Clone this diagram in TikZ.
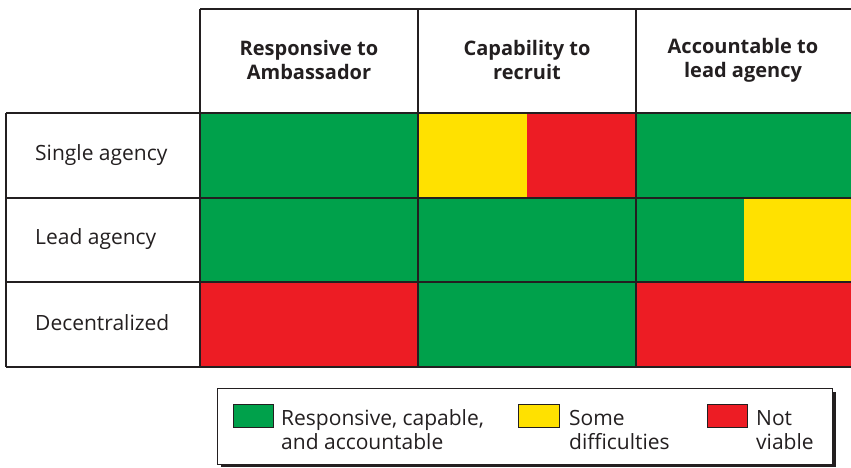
\documentclass[tikz,border=0pt]{standalone}
\usepackage{fontspec}
\setmainfont{Open Sans}
\definecolor{cgreen}{RGB}{0,161,75}
\definecolor{cyellow}{RGB}{255,225,0}
\definecolor{cred}{RGB}{237,28,36}
\definecolor{ink}{RGB}{35,31,32}
\begin{document}
\begin{tikzpicture}[x=1pt,y=-1pt,
  thickline/.style={draw=ink,line width=2.6pt},
  thinline/.style={draw=ink,line width=1.4pt},
  head/.style={font=\fontsize{20}{24}\selectfont\bfseries,text=ink,align=center},
  rowlab/.style={font=\fontsize{21}{24}\selectfont,text=ink,anchor=west,inner sep=0pt},
  legtxt/.style={font=\fontsize{21}{24}\selectfont,text=ink,align=left,anchor=west,inner sep=0pt},
  swatch/.style={draw=ink,line width=0.8pt}]
\useasboundingbox (0,0) rectangle (851,467);
% cells
\fill[cgreen] (200,113) rectangle (418,198);
\fill[cyellow] (418,113) rectangle (527,198);
\fill[cred] (527,113) rectangle (636,198);
\fill[cgreen] (636,113) rectangle (851,198);
\fill[cgreen] (200,198) rectangle (744,282);
\fill[cyellow] (744,198) rectangle (851,282);
\fill[cred] (200,282) rectangle (418,367);
\fill[cgreen] (418,282) rectangle (636,367);
\fill[cred] (636,282) rectangle (851,367);
% grid lines
\draw[thinline] (6,198) -- (851,198);
\draw[thinline] (6,282) -- (851,282);
\draw[thinline] (418,9) -- (418,367);
\draw[thinline] (636,9) -- (636,367);
\draw[thickline] (200,9) -- (851,9);
\draw[thickline] (200,9) -- (200,367);
\draw[thickline] (6,113) -- (851,113);
\draw[thickline] (6,113) -- (6,367);
\draw[thickline] (6,367) -- (851,367);
% headers
\node[head] (h1) at (309,60) {Responsive to\\Ambassador};
\node[head] (h2) at (527,60) {Capability to\\recruit};
\node[head] (h3) at (743,60) {Accountable to\\lead agency};
% row labels
\node[rowlab] (r1) at (35,155) {Single agency};
\node[rowlab] (r2) at (35,239) {Lead agency};
\node[rowlab] (r3) at (35,323) {Decentralized};
% legend
\fill[ink] (221,392) rectangle (836,467);
\draw[fill=white,draw=ink,line width=1pt] (217,388) rectangle (832,464);
\draw[swatch,fill=cgreen] (233,404) rectangle (273,427);
\draw[swatch,fill=cyellow] (518,404) rectangle (559,427);
\draw[swatch,fill=cred] (707,404) rectangle (747,427);
\node[legtxt] (l1) at (281,430) {Responsive, capable,\\and accountable};
\node[legtxt] (l2) at (569,430) {Some\\difficulties};
\node[legtxt] (l3) at (756,430) {Not\\viable};
\end{tikzpicture}
\end{document}
